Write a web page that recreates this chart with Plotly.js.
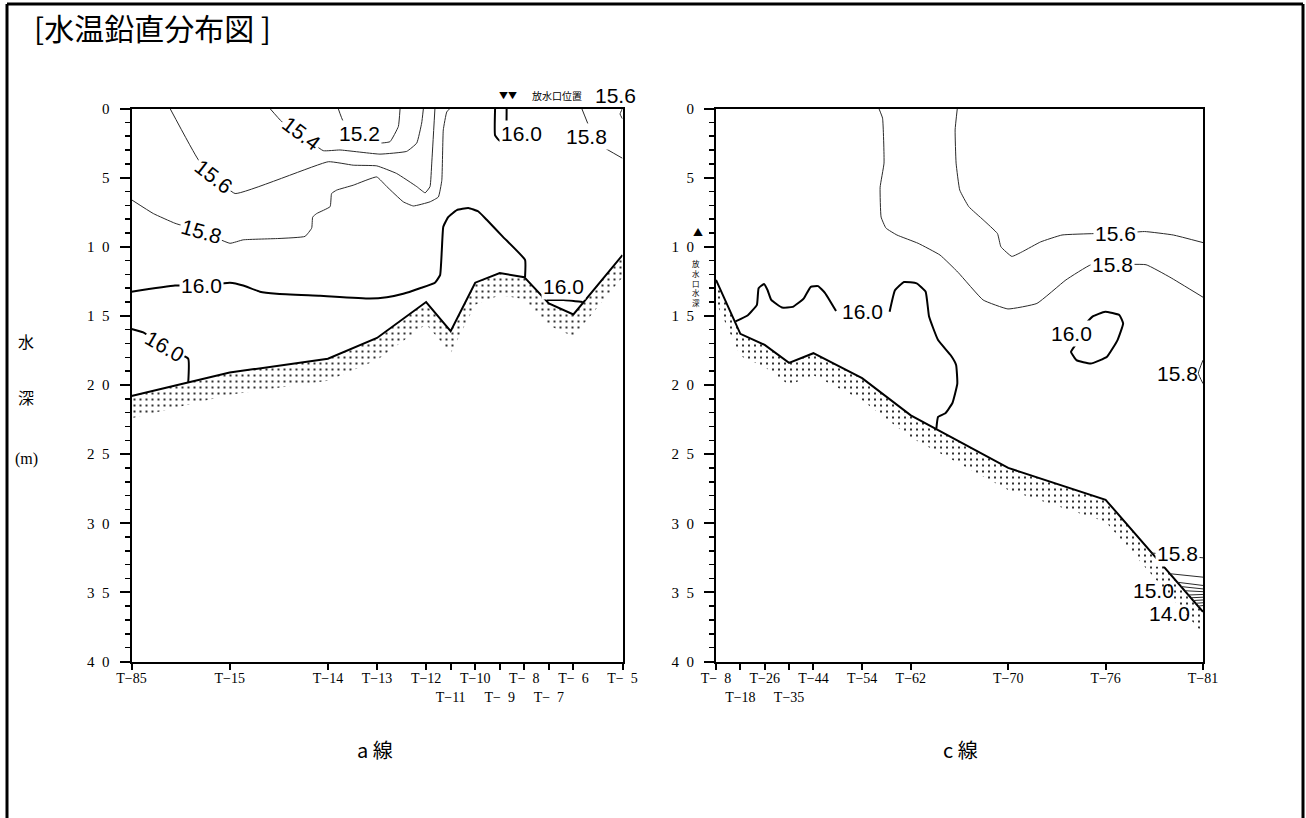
<!DOCTYPE html>
<html>
<head>
<meta charset="utf-8">
<script src="https://cdn.plot.ly/plotly-3.0.1.min.js"></script>
<style>
  html, body { margin: 0; padding: 0; background: #fff; }
  #chart { width: 1306px; height: 818px; }
</style>
</head>
<body>
<div id="chart"></div>
<script>
// ---- Line a: stations (relative distance along the section) and sea-bed depth (m)
const aStations = [0, 4, 8, 10, 12, 13, 14, 15, 16, 17, 18, 20];
const aStationNames = ['T-85', 'T-15', 'T-14', 'T-13', 'T-12', 'T-11', 'T-10', 'T-9', 'T-8', 'T-7', 'T-6', 'T-5'];
const aSeabed = [20.8, 19.1, 18.1, 16.6, 14.0, 16.1, 12.6, 11.9, 12.2, 14.1, 14.9, 10.6];

// ---- Line c
const cStations = [0, 1, 2, 3, 4, 6, 8, 12, 16, 20];
const cStationNames = ['T-8', 'T-18', 'T-26', 'T-35', 'T-44', 'T-54', 'T-62', 'T-70', 'T-76', 'T-81'];
const cSeabed = [12.4, 16.3, 17.1, 18.4, 17.7, 19.5, 22.2, 26.0, 28.3, 36.4];

const depthTicks = [0, 5, 10, 15, 20, 25, 30, 35, 40];

// ---- Isotherms, line a: [distance, depth]; null breaks a line
const a152 = [[8.42, 0], [8.63, 0.95], [9.31, 1.8], [10.05, 2.5], [10.53, 2.4], [10.87, 1.3], [10.94, 0]];
const a154 = [[5.64, 0], [6.12, 0.95], [6.86, 1.8], [7.81, 3.05], [8.49, 3.0], [10.12, 3.3], [11.21, 3.1], [11.62, 2.5], [11.82, 1.05], [11.89, 0]];
const a156 = [[1.57, 0], [2.72, 3.7], [3.40, 4.95], [4.22, 6.15], [8.02, 3.85], [9.03, 4.1], [9.99, 4.15], [10.80, 4.7], [11.62, 5.65], [11.96, 6.1], [12.16, 5.65], [12.23, 3.95], [12.36, 0]];
const a158 = [[0, 6.6], [0.89, 7.6], [1.77, 8.3], [2.86, 8.9], [4.01, 9.75], [4.55, 9.5], [6.05, 9.4], [7.07, 9.25], [7.34, 8.65], [7.38, 7.85], [7.54, 7.6], [8.09, 7.1], [8.15, 6.15], [8.36, 5.9], [9.03, 5.55], [9.99, 4.95], [10.40, 5.65], [11.07, 6.75], [11.48, 7.05], [12.16, 6.75], [12.50, 6.4], [12.64, 5.2], [12.70, 1.55], [12.84, 0.25], [12.97, 0]];
const a158East = [[18.34, 0], [18.61, 1.2], [18.8, 2.2], [19.08, 2.65], [20, 3.6]];
const a156East = [[20, 0], [19.9, 0.4], [20, 0.75]];
const a160Main = [[0, 13.25], [1.77, 12.8], [2.86, 12.8], [4.01, 12.6], [4.55, 12.8], [5.23, 13.25], [5.91, 13.4], [7.68, 13.55], [9.71, 13.75], [10.40, 13.65], [11.07, 13.4], [11.75, 13.0], [12.36, 12.6], [12.57, 12.05], [12.64, 10.25], [12.70, 8.55], [12.90, 7.85], [13.25, 7.35], [13.72, 7.2], [14.13, 7.45], [14.47, 8.05], [15.14, 9.3], [16.03, 10.95], [16.03, 12.2]];
const a160Deep = [[0, 15.95], [0.48, 16.2], [1.36, 17.25], [2.31, 18.1], [2.31, 19.85]];
const a160Outfall = [[14.81, 0], [14.81, 1.95], [15.01, 2.35], [15.25, 1.8], [15.28, 0]];
const a160Trough = [[16.92, 13.85], [17.6, 13.85], [18.38, 14.0]];

// ---- Isotherms, line c
const c156 = [[9.91, 0], [9.82, 1.55], [9.86, 3.95], [10.01, 5.9], [10.38, 7.1], [10.97, 8.05], [11.56, 9.05], [11.70, 10.0], [12.15, 10.7], [12.59, 10.35], [13.33, 9.65], [14.21, 9.15], [15.52, 9.05], [16.39, 9.05], [17.60, 8.9], [18.78, 9.15], [20, 9.7]];
const c158 = [[6.69, 0], [6.84, 0.7], [6.90, 3.95], [6.74, 5.7], [6.78, 7.85], [6.98, 8.65], [7.43, 9.15], [8.30, 9.75], [9.20, 10.6], [9.94, 11.85], [10.97, 13.85], [11.99, 14.5], [13.18, 14.1], [14.37, 12.4], [15.40, 11.3], [16.30, 11.3], [17.66, 11.3], [18.64, 12.2], [20, 13.65]];
const c158Edge = [[20, 18.2], [19.81, 19.15], [20, 19.9]];
const c160 = [[0.80, 15.4], [1.31, 14.95], [1.68, 14.2], [1.75, 13.0], [1.97, 12.7], [2.12, 13.15], [2.27, 13.85], [2.71, 14.4], [3.15, 14.35], [3.60, 13.75], [3.89, 12.9], [4.19, 12.85], [4.48, 13.35], [4.93, 14.65], null, [7.13, 14.7], [7.35, 13.15], [7.72, 12.55], [8.24, 12.65], [8.61, 13.25], [8.75, 15.05], [9.12, 16.75], [9.64, 17.85], [9.86, 18.55], [9.91, 19.9], [9.71, 21.3], [9.42, 22.05], [9.12, 22.3], [9.05, 23.15]];
const c160Cell = [[15.15, 15.65], [15.46, 15.05], [15.98, 14.7], [16.57, 14.95], [16.72, 15.55], [16.49, 16.75], [16.06, 17.95], [15.39, 18.45], [14.80, 18.2], [14.58, 17.6], [14.80, 17.0], [15.15, 15.65]];
// cold bottom water near T-81: level, start distance, start depth, depth at section end
const cBottomLevels = [15.8, 15.6, 15.4, 15.2, 15.0, 14.8, 14.6, 14.4, 14.2, 14.0];
const cBottomStartX = [17.89, 18.64, 18.95, 19.1, 19.25, 19.4, 19.5, 19.6, 19.7, 19.8];
const cBottomStartD = [32.15, 33.65, 34.27, 34.58, 34.88, 35.19, 35.39, 35.59, 35.79, 36.0];
const cBottomEndD = [32.5, 33.9, 34.5, 34.75, 34.95, 35.15, 35.35, 35.55, 35.75, 35.95];

// ---- Isotherm labels: [text, distance, depth, angle]
const aIsoLabels = [
  ['15.2', 9.28, 1.79, 0], ['15.4', 6.93, 1.8, 37], ['15.6', 3.35, 4.95, 38],
  ['15.8', 2.86, 8.91, 16], ['16.0', 2.86, 12.8, 0], ['16.0', 1.36, 17.25, 30],
  ['16.0', 15.89, 1.79, 0], ['15.8', 18.54, 2.04, 0], ['16.0', 17.58, 12.89, 0]
];
const cIsoLabels = [
  ['15.6', 16.39, 9.05, 0], ['15.8', 16.3, 11.3, 0], ['16.0', 6.03, 14.7, 0],
  ['16.0', 14.58, 16.25, 0], ['15.8', 18.97, 32.17, 0]
];
const cIsoLabelsPlain = [['15.8', 18.95, 19.15], ['15.0', 17.96, 34.83], ['14.0', 18.63, 36.51]];

// ------------------------------------------------------------------
const W = 1306, H = 818;
const px = v => v / W;             // horizontal pixel -> paper
const py = v => (H - v) / H;       // vertical pixel (from top) -> paper
const SANS = '"Liberation Sans Narrow", "Arial Narrow", "Liberation Sans", Arial, sans-serif';
const SERIF = '"Liberation Serif", "DejaVu Serif", serif';
const CJK = '"Noto Sans CJK JP", "Noto Sans", sans-serif';
const BAND = 1.6;  // thickness of the dotted sediment band below the bed line (m)

function stationText(name) {
  const n = name.split('-')[1];
  return 'T\u2212' + (n.length === 1 ? '\u2002' + n : n);
}
// closely spaced stations alternate onto a second label row
function stationTicks(pos, names) {
  const rows = [];
  return names.map((nm, i) => {
    const second = i > 0 && pos[i] - pos[i - 1] <= 1 && rows[i - 1] === 1;
    rows.push(second ? 2 : 1);
    return (second ? ' <br>' : '') + stationText(nm);
  });
}
const depthText = depthTicks.map(v => String(v).split('').join('\u2002'));

function iso(pts, xa, ya, width) {
  return {
    type: 'scatter', mode: 'lines', xaxis: xa, yaxis: ya,
    x: pts.map(p => p ? p[0] : null), y: pts.map(p => p ? p[1] : null),
    line: {color: width > 1 ? '#000' : '#2a2a2a', width: width, shape: 'spline', smoothing: 0.35},
    hoverinfo: 'skip', showlegend: false
  };
}
function seabedTraces(st, bed, xa, ya) {
  const xs = st.concat(st.slice().reverse());
  const ys = bed.concat(bed.map(v => v + BAND).reverse());
  return [
    {type: 'scatter', mode: 'lines', xaxis: xa, yaxis: ya, x: xs, y: ys, fill: 'toself',
     fillcolor: 'white', line: {width: 0, color: 'rgba(0,0,0,0)'},
     fillpattern: {shape: '.', size: 6, solidity: 0.1, fgcolor: '#000', bgcolor: 'white', fgopacity: 1},
     hoverinfo: 'skip', showlegend: false},
    {type: 'scatter', mode: 'lines', xaxis: xa, yaxis: ya, x: st, y: bed,
     line: {color: '#000', width: 2}, hoverinfo: 'skip', showlegend: false}
  ];
}

const traces = [
  ...seabedTraces(aStations, aSeabed, 'x', 'y'),
  iso(a152, 'x', 'y', 1), iso(a154, 'x', 'y', 1), iso(a156, 'x', 'y', 1), iso(a158, 'x', 'y', 1),
  iso(a158East, 'x', 'y', 1), iso(a156East, 'x', 'y', 1),
  iso(a160Main, 'x', 'y', 2), iso(a160Deep, 'x', 'y', 2), iso(a160Outfall, 'x', 'y', 2), iso(a160Trough, 'x', 'y', 2),
  ...seabedTraces(cStations, cSeabed, 'x2', 'y2'),
  iso(c156, 'x2', 'y2', 1), iso(c158, 'x2', 'y2', 1), iso(c158Edge, 'x2', 'y2', 1),
  iso(c160, 'x2', 'y2', 2), iso(c160Cell, 'x2', 'y2', 2)
];
cBottomLevels.forEach((lv, i) => {
  traces.push(iso([[cBottomStartX[i], cBottomStartD[i]], [20, cBottomEndD[i]]], 'x2', 'y2', 1));
});

const isoFont = {family: SANS, size: 21, color: '#000'};
const annotations = [];
function addIsoLabels(list, xr, yr, masked) {
  list.forEach(l => annotations.push({
    xref: xr, yref: yr, x: l[1], y: l[2], text: l[0], textangle: l[3] || 0,
    xanchor: 'center', yanchor: 'middle',
    showarrow: false, font: isoFont,
    bgcolor: masked ? 'white' : 'rgba(0,0,0,0)', borderpad: 1
  }));
}
addIsoLabels(aIsoLabels, 'x', 'y', true);
addIsoLabels(cIsoLabels, 'x2', 'y2', true);
addIsoLabels(cIsoLabelsPlain, 'x2', 'y2', false);

function note(xr, yr, x, y, text, font, xanchor) {
  return {xref: xr, yref: yr, x, y, text, showarrow: false, font,
          xanchor: xanchor || 'center', yanchor: 'middle'};
}
// sheet heading, section names, depth axis title
annotations.push(
  note('paper', 'paper', px(32), py(27), '[水温鉛直分布図 ]', {family: CJK, size: 30, color: '#000'}, 'left'),
  note('paper', 'paper', px(375), py(749), 'a 線', {family: CJK, size: 20, color: '#000'}),
  note('paper', 'paper', px(960), py(749), 'c 線', {family: CJK, size: 20, color: '#000'}),
  note('paper', 'paper', px(26), py(341), '水', {family: CJK, size: 16, color: '#000'}),
  note('paper', 'paper', px(26), py(397), '深', {family: CJK, size: 16, color: '#000'}),
  note('paper', 'paper', px(26), py(459), '(m)', {family: SERIF, size: 16, color: '#000'})
);
// outfall markers
annotations.push(
  note('x', 'paper', 15.16, py(96), '▼', {family: CJK, size: 9, color: '#000'}),
  note('x', 'paper', 15.5, py(96), '▼', {family: CJK, size: 9, color: '#000'}),
  note('x', 'paper', 17.33, py(96), '放水口位置', {family: CJK, size: 10, color: '#000'}),
  note('x', 'paper', 19.73, py(96), '15.6', isoFont),
  note('paper', 'y2', px(698), 8.93, '▲', {family: CJK, size: 10, color: '#000'}),
  note('paper', 'y2', px(696), 12.6, '放<br>水<br>口<br>水<br>深', {family: CJK, size: 7.5, color: '#000'})
);

const xDomA = [px(131.5), px(622.5)];
const xDomC = [px(716), px(1203)];
const yDom = [py(661.5), py(108.5)];

function xAxis(domain, anchor, st, names) {
  return {
    domain, anchor, range: [0, 20], fixedrange: true,
    tickmode: 'array', tickvals: st, ticktext: stationTicks(st, names),
    tickangle: 0, ticklabelstandoff: -3,
    ticks: 'outside', ticklen: 6, tickwidth: 2, tickcolor: '#000',
    tickfont: {family: SERIF, size: 14, color: '#000'},
    showline: true, linewidth: 2, linecolor: '#000', mirror: true,
    showgrid: false, zeroline: false
  };
}
function yAxis(anchor) {
  return {
    domain: yDom, anchor, range: [40, 0], autorange: false, fixedrange: true,
    tickmode: 'array', tickvals: depthTicks, ticktext: depthText,
    ticks: 'outside', ticklen: 10, tickwidth: 2, tickcolor: '#000',
    ticklabelstandoff: 7,
    tickfont: {family: SERIF, size: 15, color: '#000'},
    minor: {tickmode: 'linear', tick0: 0, dtick: 1, ticks: 'outside', ticklen: 5, tickwidth: 1.5, tickcolor: '#000', showgrid: false},
    showline: true, linewidth: 2, linecolor: '#000', mirror: true,
    showgrid: false, zeroline: false
  };
}

const frame = {type: 'line', xref: 'paper', yref: 'paper', line: {color: '#000', width: 3}};
const layout = {
  width: W, height: H,
  margin: {l: 0, r: 0, t: 0, b: 0},
  paper_bgcolor: '#fff', plot_bgcolor: '#fff',
  showlegend: false,
  xaxis: xAxis(xDomA, 'y', aStations, aStationNames),
  yaxis: yAxis('x'),
  xaxis2: xAxis(xDomC, 'y2', cStations, cStationNames),
  yaxis2: yAxis('x2'),
  annotations,
  shapes: [
    Object.assign({x0: px(7), x1: px(7), y0: 0, y1: py(4)}, frame),
    Object.assign({x0: px(7), x1: px(1303), y0: py(4), y1: py(4)}, frame),
    Object.assign({x0: px(1303), x1: px(1303), y0: 0, y1: py(4)}, frame)
  ]
};

Plotly.newPlot('chart', traces, layout, {staticPlot: true, displayModeBar: false});
</script>
</body>
</html>
